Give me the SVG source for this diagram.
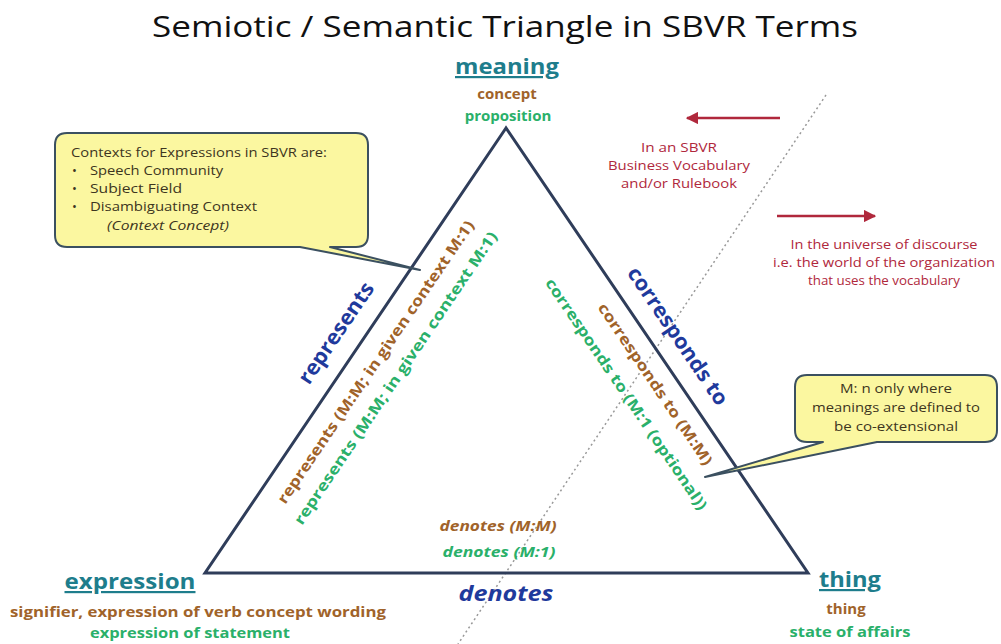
<svg xmlns="http://www.w3.org/2000/svg" width="1001" height="644" viewBox="0 0 1001 644">
<defs>
<style>
text{font-family:"Open Sans","Noto Sans",sans-serif;font-weight:bold}
.title{font-size:30px;font-weight:normal;fill:#111}
.head{font-size:22px;fill:#1e7d8c;text-decoration:underline}
.br{fill:#a0632a;font-size:15px}
.gr{fill:#2ab06a;font-size:15px}
.bl{fill:#1f3a9c;font-size:21px}
.red{fill:#b0283c;font-size:13px;font-weight:normal;text-anchor:middle}
.call{fill:#fbf7a0;stroke:#3b5060;stroke-width:2;stroke-linejoin:round}
.ct{fill:#3d3520;font-size:13px;font-weight:normal}
.mid{text-anchor:middle}
</style>
<marker id="ar" viewBox="0 0 10 10" refX="9" refY="5" markerWidth="5" markerHeight="5" orient="auto"><path d="M0,0 L10,5 L0,10 z" fill="#b0283c"/></marker>
</defs>
<rect width="1001" height="644" fill="#fff"/>
<text class="title mid" x="505" y="37" textLength="706" lengthAdjust="spacingAndGlyphs">Semiotic / Semantic Triangle in SBVR Terms</text>

<g id="connectors">
<path d="M826,95 L458,644" stroke="#999" stroke-width="1.5" stroke-dasharray="2,3" fill="none"/>
<polygon points="506,128 205,573 808,573" fill="none" stroke="#2f3d5a" stroke-width="3" stroke-linejoin="miter"/>
<line x1="780" y1="118" x2="687" y2="118" stroke="#b0283c" stroke-width="2.5" marker-end="url(#ar)"/>
<line x1="777" y1="216" x2="875" y2="216" stroke="#b0283c" stroke-width="2.5" marker-end="url(#ar)"/>
<text class="bl" transform="translate(342,337) rotate(-55.9)" text-anchor="middle" textLength="118" lengthAdjust="spacingAndGlyphs">represents</text>
<text class="br" transform="translate(380,365) rotate(-55.9)" text-anchor="middle" textLength="338" lengthAdjust="spacingAndGlyphs">represents  (M:M; in given context M:1)</text>
<text class="gr" transform="translate(400,381) rotate(-55.9)" text-anchor="middle" textLength="350" lengthAdjust="spacingAndGlyphs">represents  (M:M; in given context M:1)</text>
<text class="bl" transform="translate(672,340) rotate(55.9)" text-anchor="middle" textLength="162" lengthAdjust="spacingAndGlyphs">corresponds to</text>
<text class="br" transform="translate(651,387) rotate(55.9)" text-anchor="middle" textLength="192" lengthAdjust="spacingAndGlyphs">corresponds to (M:M)</text>
<text class="gr" transform="translate(622,397) rotate(55.9)" text-anchor="middle" textLength="276" lengthAdjust="spacingAndGlyphs">corresponds to (M:1 (optional))</text>
<text class="br mid" x="498" y="531" font-style="italic" font-size="17" textLength="117" lengthAdjust="spacingAndGlyphs">denotes (M:M)</text>
<text class="gr mid" x="499" y="557" font-style="italic" font-size="17" textLength="113" lengthAdjust="spacingAndGlyphs">denotes (M:1)</text>
<text class="bl mid" x="506" y="601" font-style="italic" textLength="95" lengthAdjust="spacingAndGlyphs">denotes</text>
</g>

<g id="meaning">
<text class="head mid" x="507" y="74" textLength="104" lengthAdjust="spacingAndGlyphs">meaning</text>
<text class="br mid" x="507" y="99">concept</text>
<text class="gr mid" x="508" y="121">proposition</text>
</g>

<g id="expression">
<text class="head mid" x="130" y="589" font-size="24" textLength="131" lengthAdjust="spacingAndGlyphs">expression</text>
<text class="br mid" x="198" y="617" textLength="376" lengthAdjust="spacingAndGlyphs">signifier, expression of verb concept wording</text>
<text class="gr mid" x="190" y="638" textLength="200" lengthAdjust="spacingAndGlyphs">expression of statement</text>
</g>

<g id="thing">
<text class="head mid" x="850" y="587" textLength="62" lengthAdjust="spacingAndGlyphs">thing</text>
<text class="br mid" x="846" y="614">thing</text>
<text class="gr mid" x="850" y="637" textLength="121" lengthAdjust="spacingAndGlyphs">state of affairs</text>
</g>

<g id="vocab-note">
<text class="red" x="679" y="152" textLength="76" lengthAdjust="spacingAndGlyphs">In an SBVR</text>
<text class="red" x="679" y="170" textLength="142" lengthAdjust="spacingAndGlyphs">Business Vocabulary</text>
<text class="red" x="679" y="188" textLength="116" lengthAdjust="spacingAndGlyphs">and/or Rulebook</text>
</g>

<g id="universe-note">
<text class="red" x="884" y="249" textLength="187" lengthAdjust="spacingAndGlyphs">In the universe of discourse</text>
<text class="red" x="884" y="267" textLength="222" lengthAdjust="spacingAndGlyphs">i.e. the world of the organization</text>
<text class="red" x="884" y="285" textLength="152" lengthAdjust="spacingAndGlyphs">that uses the vocabulary</text>
</g>

<g id="contexts-callout">
<path class="call" d="M67,133 H356 Q368,133 368,145 V235 Q368,247 356,247 H330 L420,270 L300,247 H67 Q55,247 55,235 V145 Q55,133 67,133 Z"/>
<text class="ct" x="71" y="157" textLength="256" lengthAdjust="spacingAndGlyphs">Contexts for Expressions in SBVR are:</text>
<text class="ct" x="72" y="175">•</text><text class="ct" x="90" y="175" textLength="133" lengthAdjust="spacingAndGlyphs">Speech Community</text>
<text class="ct" x="72" y="193">•</text><text class="ct" x="90" y="193" textLength="92" lengthAdjust="spacingAndGlyphs">Subject Field</text>
<text class="ct" x="72" y="211">•</text><text class="ct" x="90" y="211" textLength="167" lengthAdjust="spacingAndGlyphs">Disambiguating Context</text>
<text class="ct" x="107" y="230" font-style="italic" textLength="122" lengthAdjust="spacingAndGlyphs">(Context Concept)</text>
</g>

<g id="mn-callout">
<path class="call" d="M807,375 H985 Q997,375 997,387 V430 Q997,442 985,442 H877 L705,477 L823,442 H807 Q795,442 795,430 V387 Q795,375 807,375 Z"/>
<text class="ct mid" x="896" y="393" textLength="112" lengthAdjust="spacingAndGlyphs">M: n only where</text>
<text class="ct mid" x="896" y="412" textLength="168" lengthAdjust="spacingAndGlyphs">meanings are defined to</text>
<text class="ct mid" x="896" y="431" textLength="124" lengthAdjust="spacingAndGlyphs">be co-extensional</text>
</g>
</svg>
